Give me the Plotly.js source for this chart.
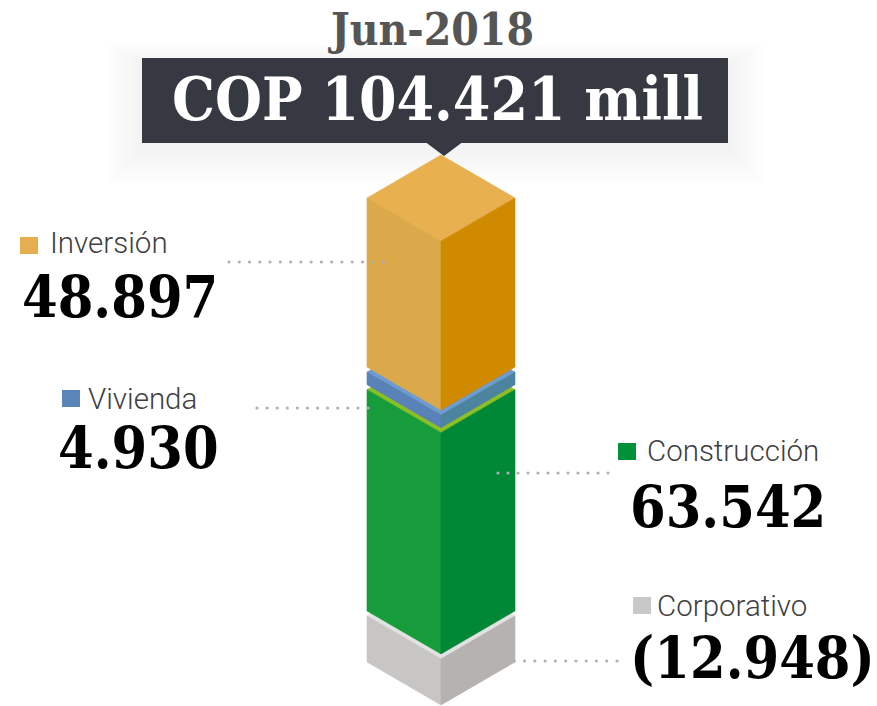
<!DOCTYPE html>
<html><head><meta charset="utf-8">
<script src="https://cdn.plot.ly/plotly-3.0.1.min.js"></script>
<style>html,body{margin:0;padding:0;background:#fff;}#chart{width:877px;height:706px;}</style>
</head><body><div id="chart"></div>
<script>
// ---------- DATA ----------
const periodLabel = 'Jun-2018';
const currency = 'COP';
const unitLabel = 'mill';
const categories = ['Corporativo', 'Construcción', 'Vivienda', 'Inversión'];
const values = [-12.948, 63.542, 4.930, 48.897];
const valueLabels = ['(12.948)', '63.542', '4.930', '48.897'];

// ---------- STYLE ----------
const faceLeft  = ['#C8C6C4', '#169C3A', '#5882B8', '#DBA94A'];
const faceRight = ['#B5B2AF', '#008837', '#4C849F', '#CF8A00'];
const faceTop   = ['#E2E2E2', '#8DBF22', '#6E9BD1', '#E8B04F'];
const legendCol = ['#C8C8C8', '#00913A', '#5B84B8', '#E5AE4E'];

const W = 877, H = 706;
const TOP_PX = 198, BOT_PX = 662;
const XL = 367, XC = 441, XR = 515, DEPTH_PX = 43, GAP_PX = 5;
const serif = '"DejaVu Serif Condensed", "DejaVu Serif", serif';
const sans = 'Roboto, "Open Sans", sans-serif';

// ---------- STACK ----------
let pos = 0, neg = 0;
const seg = values.map(v => {
  if (v >= 0) { const a = pos; pos += v; return [a, pos]; }
  const b = neg; neg += v; return [neg, b];
});
const total = values.reduce((s, v) => s + v, 0);
const yMin = neg, yMax = pos;
const scale = (BOT_PX - TOP_PX) / (yMax - yMin);
const y0 = yMin - (H - BOT_PX) / scale;
const y1 = y0 + H / scale;
const D = DEPTH_PX / scale, G = GAP_PX / scale;

const traces = [];
function poly(xs, ys, color) {
  traces.push({type: 'scatter', mode: 'lines', x: xs, y: ys, fill: 'toself',
    fillcolor: color, line: {color: color, width: 0.6}, hoverinfo: 'skip', showlegend: false});
}
const order = values.map((v, i) => i).sort((i, j) => seg[i][0] - seg[j][0]);
order.forEach((i, k) => {
  const a = seg[i][0] + (k > 0 ? G : 0), b = seg[i][1];
  poly([XL, XC, XR, XC, XL], [b, b + D, b, b - D, b], faceTop[i]);
  poly([XL, XC, XC, XL, XL], [b, b - D, a - D, a, b], faceLeft[i]);
  poly([XC, XR, XR, XC, XC], [b - D, b, a, a - D, b - D], faceRight[i]);
});

// leader dots (pixel layout)
const leaders = [
  {x0: 229, x1: 383, y: 262},
  {x0: 257, x1: 368, y: 408},
  {x0: 498, x1: 608, y: 473},
  {x0: 504, x1: 617, y: 661}
];
const toY = p => y0 + (H - p) / scale;
leaders.forEach(L => {
  const xs = [], ys = [];
  const n = Math.round((L.x1 - L.x0) / 10.3);
  for (let k = 0; k <= n; k++) { xs.push(L.x0 + k * (L.x1 - L.x0) / n); ys.push(toY(L.y)); }
  traces.push({type: 'scatter', mode: 'markers', x: xs, y: ys,
    marker: {size: 3.2, color: '#AEB0B8'}, hoverinfo: 'skip', showlegend: false});
});

// ---------- LAYOUT ----------
const py = p => 1 - p / H;
const shapes = [];
// soft shadow behind the title box
for (let k = 12; k >= 1; k--) {
  shapes.push({type: 'rect', xref: 'x', yref: 'paper', x0: 142 - 3 * k, x1: 728 + 3 * k,
    y0: py(148 + 3 * k), y1: py(62 - 1.5 * k), fillcolor: 'rgba(0,0,0,0.005)', line: {width: 0}, layer: 'below'});
}
shapes.push({type: 'rect', xref: 'x', yref: 'paper', x0: 142, x1: 728, y0: py(143), y1: py(58),
  fillcolor: '#363842', line: {width: 0}});
shapes.push({type: 'path', xref: 'x', yref: 'paper',
  path: `M 426 ${py(142.5)} L 462 ${py(142.5)} L 444 ${py(156)} Z`, fillcolor: '#363842', line: {width: 0}});

const labelPos = [
  {sq: [633, 597], tx: 655, ty: 606, nx: 628, ny: 657, nanchor: 'left'},
  {sq: [618, 443], tx: 645, ty: 451, nx: 628, ny: 506, nanchor: 'left'},
  {sq: [62, 390],  tx: 86,  ty: 399, nx: 221, ny: 447, nanchor: 'right'},
  {sq: [20, 237],  tx: 48,  ty: 243, nx: 220, ny: 296, nanchor: 'right'}
];
const annotations = [];
categories.forEach((c, i) => {
  const L = labelPos[i];
  shapes.push({type: 'rect', xref: 'x', yref: 'paper', x0: L.sq[0], x1: L.sq[0] + 18,
    y0: py(L.sq[1] + 17), y1: py(L.sq[1]), fillcolor: legendCol[i], line: {width: 0}});
  annotations.push({xref: 'x', yref: 'paper', x: L.tx, y: py(L.ty), xanchor: 'left', yanchor: 'middle',
    text: c, showarrow: false, font: {family: sans, size: 29.5, weight: 300, color: '#404040'}});
  annotations.push({xref: 'x', yref: 'paper', x: L.nx, y: py(L.ny), xanchor: L.nanchor, yanchor: 'middle',
    text: valueLabels[i], showarrow: false, font: {family: serif, size: 57, weight: 700, color: '#000'}});
});
annotations.push({xref: 'x', yref: 'paper', x: 431, y: py(30), xanchor: 'center', yanchor: 'middle',
  text: periodLabel, showarrow: false, font: {family: serif, size: 44, weight: 700, color: '#555555'}});
annotations.push({xref: 'x', yref: 'paper', x: 437, y: py(99), xanchor: 'center', yanchor: 'middle',
  text: `${currency} ${total.toFixed(3)} ${unitLabel}`, showarrow: false,
  font: {family: serif, size: 60, weight: 700, color: '#FFFFFF'}});

const layout = {
  width: W, height: H, margin: {l: 0, r: 0, t: 0, b: 0},
  paper_bgcolor: '#FFFFFF', plot_bgcolor: '#FFFFFF', showlegend: false,
  xaxis: {range: [0, W], visible: false, fixedrange: true},
  yaxis: {range: [y0, y1], visible: false, fixedrange: true},
  shapes: shapes, annotations: annotations
};
Plotly.newPlot('chart', traces, layout, {displayModeBar: false, staticPlot: true});
</script>
</body></html>
